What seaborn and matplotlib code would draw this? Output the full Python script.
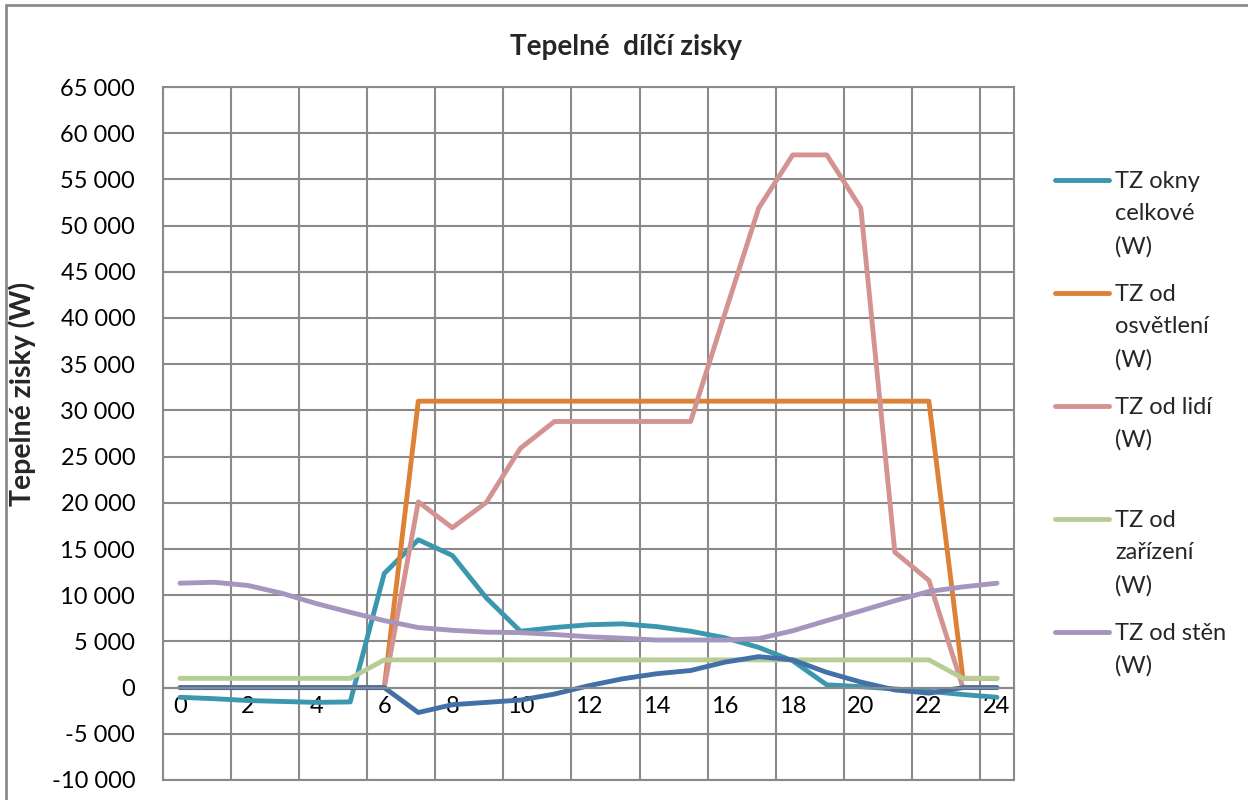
import matplotlib
matplotlib.use("Agg")
import matplotlib.pyplot as plt
from matplotlib.lines import Line2D
import pandas as pd
import seaborn as sns

# Hourly heat gains (W), hours 0..24
hours = list(range(25))
tz_okny = [-1050, -1200, -1400, -1500, -1600, -1550, 12350, 16000, 14300, 9700,
           6100, 6500, 6800, 6900, 6600, 6100, 5400, 4350, 2900, 300,
           100, -150, -400, -750, -1050]
tz_osvetleni = [0, 0, 0, 0, 0, 0, 0, 31000, 31000, 31000,
                31000, 31000, 31000, 31000, 31000, 31000, 31000, 31000, 31000, 31000,
                31000, 31000, 31000, 1000, 1000]
tz_lide = [0, 0, 0, 0, 0, 0, 0, 20100, 17300, 20050,
           25900, 28800, 28800, 28800, 28800, 28800, 40400, 51900, 57650, 57650,
           51900, 14650, 11600, 0, 0]
tz_zarizeni = [1000, 1000, 1000, 1000, 1000, 1000, 3000, 3000, 3000, 3000,
               3000, 3000, 3000, 3000, 3000, 3000, 3000, 3000, 3000, 3000,
               3000, 3000, 3000, 1000, 1000]
tz_steny = [11300, 11400, 11050, 10200, 9100, 8150, 7250, 6500, 6200, 6000,
            5950, 5750, 5500, 5350, 5150, 5150, 5150, 5300, 6150, 7250,
            8300, 9400, 10400, 10900, 11300]
tz_extra = [0, 0, 0, 0, 0, 0, 0, -2700, -1850, -1600,
            -1350, -700, 200, 950, 1500, 1850, 2750, 3350, 3000, 1650,
            600, -250, -600, 0, 0]

series_keys = ["okny", "osvetleni", "lide", "zarizeni", "steny", "extra"]
series_values = [tz_okny, tz_osvetleni, tz_lide, tz_zarizeni, tz_steny, tz_extra]
legend_labels = ["TZ okny\ncelkové\n(W)", "TZ od\nosvětlení\n(W)", "TZ od lidí\n(W)",
                 "TZ od\nzařízení\n(W)", "TZ od stěn\n(W)"]
colors = ["#3A97AE", "#DD8136", "#D39391", "#B8CD96", "#A496BF", "#4470A8"]

x_ticks = list(range(0, 25, 2))
x_tick_labels = [str(h) for h in x_ticks]
y_ticks = list(range(-10000, 65001, 5000))
y_tick_labels = [f"{v:,}".replace(",", " ") for v in y_ticks]

title = "Tepelné  dílčí zisky"
y_title = "Tepelné zisky (W)"

df = pd.concat(
    [pd.DataFrame({"hodina": hours, "W": vals, "rada": key})
     for key, vals in zip(series_keys, series_values)],
    ignore_index=True,
)

sns.set_theme(style="white")
plt.rcParams["font.family"] = ["Lato", "DejaVu Sans"]

W, H = 1248, 800
fig = plt.figure(figsize=(W / 100, H / 100), dpi=100)
ax = fig.add_axes([163 / W, 20 / H, 851 / W, 693 / H])

sns.lineplot(data=df, x="hodina", y="W", hue="rada", hue_order=series_keys,
             palette=dict(zip(series_keys, colors)), linewidth=3.5,
             legend=False, sort=False, ax=ax,
             solid_joinstyle="round", solid_capstyle="round")

grid_c = "#8a8a8a"
ax.set_xlim(-0.5, 24.5)
ax.set_ylim(-10000, 65000)
ax.set_xticks(x_ticks)
ax.set_xticklabels(x_tick_labels)
ax.set_xticks([-0.5 + 2 * k for k in range(13)], minor=True)
ax.set_yticks(y_ticks)
ax.set_yticklabels(y_tick_labels)
ax.grid(which="minor", axis="x", color=grid_c, lw=1.5)
ax.grid(which="major", axis="y", color=grid_c, lw=1.5)
ax.grid(which="major", axis="x", visible=False)
ax.set_axisbelow(True)
ax.tick_params(axis="x", which="both", length=0, pad=6, labelsize=17, colors="black")
ax.tick_params(axis="y", length=0, pad=20, labelsize=17, colors="black")
ax.set_xlabel("")
ax.set_ylabel("")

for name in ["left", "right", "top", "bottom"]:
    ax.spines[name].set_color(grid_c)
    ax.spines[name].set_linewidth(1.5)
ax.spines["bottom"].set_position(("data", 0))
ax.axhline(-10000, color=grid_c, lw=1.5, clip_on=False, zorder=0)

fig.text(626 / W, 1 - 47 / H, title, ha="center", va="center",
         fontsize=20, fontweight="bold")
fig.text(22 / W, 1 - 394 / H, y_title, ha="center", va="center",
         rotation=90, fontsize=20.5, fontweight="bold")

# legend, one slot per series; the first text line sits level with the swatch
for i, (lab, col) in enumerate(zip(legend_labels, colors)):
    y_px = 180 + 113 * i
    fig.add_artist(Line2D([1055 / W, 1109 / W], [1 - y_px / H] * 2,
                          color=col, lw=3.5, solid_capstyle="round"))
    fig.text(1115 / W, 1 - (y_px - 9) / H, lab, ha="left", va="top",
             fontsize=17, linespacing=1.66)

# outer chart frame
frame_c = "#8c8c8c"
fig.add_artist(Line2D([6 / W, 6 / W], [0, 1 - 5 / H], color=frame_c, lw=2))
fig.add_artist(Line2D([6 / W, 1], [1 - 5 / H, 1 - 5 / H], color=frame_c, lw=2))

fig.savefig("out.png", dpi=100)
